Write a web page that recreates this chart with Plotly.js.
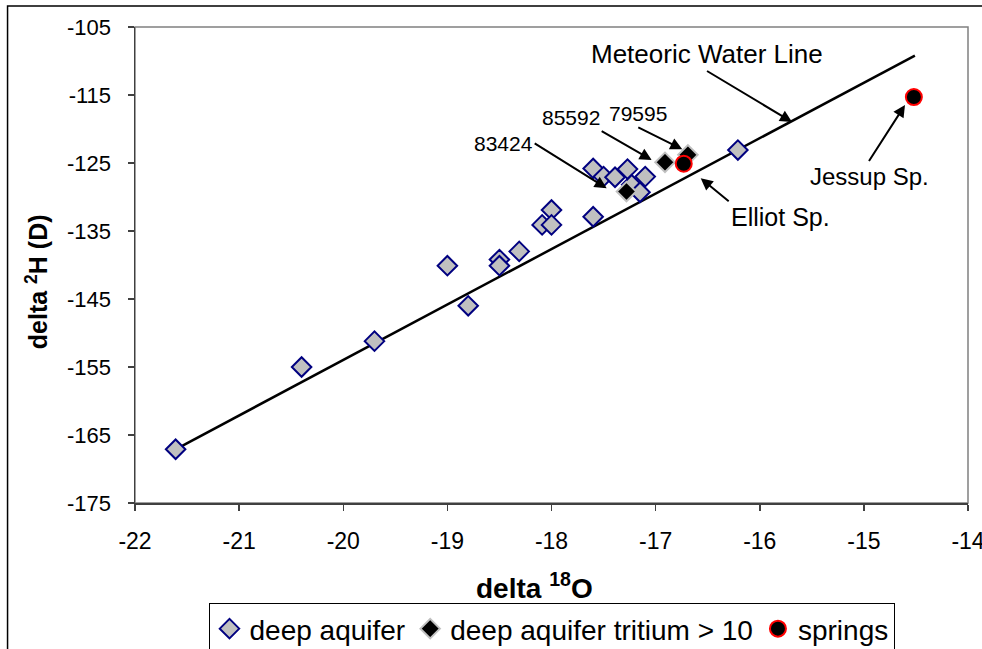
<!DOCTYPE html>
<html>
<head>
<meta charset="utf-8">
<script src="https://cdn.plot.ly/plotly-3.0.1.min.js"></script>
<style>
  html, body { margin: 0; padding: 0; background: #ffffff; }
  #chart { width: 982px; height: 649px; }
</style>
</head>
<body>
<div id="chart"></div>
<script>
// ---- data ----
const deepX = [-21.61, -20.40, -19.70, -19.00, -18.80, -18.50, -18.50, -18.31, -18.09, -18.00, -18.00,
               -17.60, -17.60, -17.50, -17.39, -17.27, -17.23, -17.10, -17.15, -16.21];
const deepY = [-167.1, -155.0, -151.2, -140.1, -146.0, -139.2, -140.1, -138.0, -134.1, -131.9, -134.1,
               -132.9, -125.8, -127.0, -127.1, -125.9, -128.2, -127.0, -129.3, -123.1];

const tritX = [-17.28, -16.91, -16.69];
const tritY = [-129.2, -124.9, -123.8];

const springX = [-16.73, -14.52];
const springY = [-125.1, -115.3];

const mwlX = [-21.61, -14.51];
const mwlY = [-167.1, -109.2];

const xTicks = [-22, -21, -20, -19, -18, -17, -16, -15, -14];
const yTicks = [-175, -165, -155, -145, -135, -125, -115, -105];

const seriesNames = ['deep aquifer', 'deep aquifer tritium > 10', 'springs'];
const xTitle = '<b>delta <sup>18</sup>O</b>';
const yTitle = '<b>delta <sup>2</sup>H (D)</b>';

// callouts: text, arrow head (data), tail offset (px), text anchors, font size
const labelText = ['Meteoric Water Line', 'Jessup Sp.', 'Elliot Sp.', '83424', '85592', '79595'];
const arrowX    = [-15.69, -14.605, -16.567, -17.47, -17.038, -16.744];
const arrowY    = [-118.97, -116.47, -127.25, -128.72, -124.56, -122.99];
const arrowAX   = [-85, -36, 28, -72, -50, -44];
const arrowAY   = [-51, 56, 23, -45, -29, -22];
const labelXA   = ['center', 'center', 'left', 'right', 'right', 'center'];
const labelYA   = ['bottom', 'top', 'top', 'middle', 'bottom', 'bottom'];
const labelSize = [26, 24, 25, 21, 21, 21];

const FONT = 'Liberation Sans, Arial, sans-serif';

const traces = [
  { x: mwlX, y: mwlY, mode: 'lines', type: 'scatter', showlegend: false, hoverinfo: 'skip',
    line: { color: '#000000', width: 2.5 } },
  { x: deepX, y: deepY, mode: 'markers', type: 'scatter', name: seriesNames[0],
    marker: { symbol: 'diamond', size: 15, color: '#c0c0c0', line: { color: '#000080', width: 2 } } },
  { x: tritX, y: tritY, mode: 'markers', type: 'scatter', name: seriesNames[1],
    marker: { symbol: 'diamond', size: 15, color: '#000000', line: { color: '#c0c0c0', width: 2 } } },
  { x: springX, y: springY, mode: 'markers', type: 'scatter', name: seriesNames[2],
    marker: { symbol: 'circle', size: 16, color: '#000000', line: { color: '#ff0000', width: 2 } } }
];

const annotations = [];
for (let i = 0; i < labelText.length; i++) {
  annotations.push({ x: arrowX[i], y: arrowY[i], xref: 'x', yref: 'y', text: labelText[i],
    showarrow: true, ax: arrowAX[i], ay: arrowAY[i], xanchor: labelXA[i], yanchor: labelYA[i],
    arrowhead: 2, arrowsize: 1.2, arrowwidth: 2, arrowcolor: '#000000', standoff: 0, startstandoff: 0,
    font: { family: FONT, size: labelSize[i], color: '#000000' } });
}
// axis titles
annotations.push({ xref: 'paper', yref: 'paper', x: 0.48, y: -0.174, text: xTitle, showarrow: false,
  xanchor: 'center', yanchor: 'middle', font: { family: FONT, size: 28, color: '#000000' } });
annotations.push({ xref: 'paper', yref: 'paper', x: -0.1176, y: 0.464, text: yTitle, showarrow: false,
  textangle: -90, xanchor: 'center', yanchor: 'middle', font: { family: FONT, size: 25, color: '#000000' } });

const layout = {
  width: 982, height: 649,
  margin: { l: 135, r: 14, t: 27, b: 146, autoexpand: false },
  paper_bgcolor: '#ffffff', plot_bgcolor: '#ffffff',
  font: { family: FONT, color: '#000000', size: 21 },
  showlegend: true,
  legend: {
    orientation: 'h', x: 0.5, xanchor: 'center', y: -0.21, yanchor: 'top',
    bordercolor: '#000000', borderwidth: 1, bgcolor: '#ffffff',
    font: { family: FONT, size: 28, color: '#000000' },
    itemclick: false
  },
  xaxis: {
    range: [-22, -14], tickmode: 'array', tickvals: xTicks, ticktext: xTicks.map(String),
    showgrid: false, zeroline: false, showline: true, linecolor: '#404040', linewidth: 1.5,
    ticks: 'outside', ticklen: 6, tickcolor: '#404040', tickwidth: 1.5,
    tickfont: { family: FONT, size: 23, color: '#000000' }, ticklabelstandoff: 11,
    ticklabeloverflow: 'allow', automargin: false
  },
  yaxis: {
    range: [-175, -105], tickmode: 'array', tickvals: yTicks, ticktext: yTicks.map(String),
    showgrid: false, zeroline: false, showline: true, linecolor: '#404040', linewidth: 1.5,
    ticks: 'outside', ticklen: 6, tickcolor: '#404040', tickwidth: 1.5,
    tickfont: { family: FONT, size: 22, color: '#000000' }, ticklabelstandoff: 12,
    ticklabeloverflow: 'allow', automargin: false
  },
  shapes: [
    { type: 'rect', xref: 'paper', yref: 'paper', x0: 0, x1: 1, y0: 0, y1: 1,
      line: { color: '#808080', width: 1.5 }, layer: 'below' },
    { type: 'rect', xref: 'paper', yref: 'paper', x0: -0.153, x1: 1.05, y0: -0.4, y1: 1.044,
      line: { color: '#000000', width: 1.5 }, layer: 'below' }
  ],
  annotations: annotations
};

Plotly.newPlot('chart', traces, layout, { displayModeBar: false, staticPlot: true });
</script>
</body>
</html>
